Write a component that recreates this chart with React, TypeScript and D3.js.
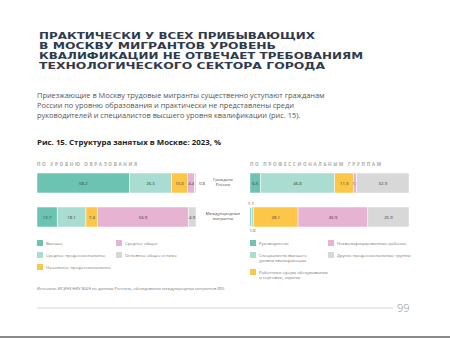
import React from "react";
import * as d3 from "d3";

const titleLines = [
  "ПРАКТИЧЕСКИ У ВСЕХ ПРИБЫВАЮЩИХ",
  "В МОСКВУ МИГРАНТОВ УРОВЕНЬ",
  "КВАЛИФИКАЦИИ НЕ ОТВЕЧАЕТ ТРЕБОВАНИЯМ",
  "ТЕХНОЛОГИЧЕСКОГО СЕКТОРА ГОРОДА",
];
const titleWidths = [276, 237, 324, 286];
const bodyLines = [
  "Приезжающие в Москву трудовые мигранты существенно уступают гражданам",
  "России по уровню образования и практически не представлены среди",
  "руководителей и специалистов высшего уровня квалификации (рис. 15).",
];
const figTitle = "Рис. 15. Структура занятых в Москве: 2023, %";
const rowLabels = [["Граждане", "России"], ["Международные", "мигранты"]];

const eduHeader = "ПО УРОВНЮ ОБРАЗОВАНИЯ";
const eduCats = ["Высшее", "Среднее профессиональное", "Начальное профессиональное", "Среднее общее", "Основное общее и ниже"];
const eduCitizens = [58.2, 26.3, 10.3, 4.4, 0.8];
const eduMigrants = [12.7, 18.1, 7.4, 56.9, 4.9];

const profHeader = "ПО ПРОФЕССИОНАЛЬНЫМ ГРУППАМ";
const profCats = [
  "Руководители",
  "Специалисты высшего\nуровня квалификации",
  "Работники сферы обслуживания\nи торговли, охраны",
  "Неквалифицированные рабочие",
  "Другие профессиональные группы",
];
const profCitizens = [6.5, 46.8, 11.9, 1.9, 32.9];
const profMigrants = [1.1, 1.0, 28.1, 43.9, 25.9];

const source = "Источник: ИСИЭЗ НИУ ВШЭ по данным Росстата, обследование международных мигрантов (80).";
const pageNum = "99";

const colors = ["#6cc3b1", "#a9ddd2", "#fcc748", "#e7b3d3", "#d8d8d8"];

const FONT = "'Open Sans', 'DejaVu Sans', sans-serif";

function Bars({ rows, x0, x1, y0s, h }: { rows: number[][]; x0: number; x1: number; y0s: number[]; h: number }) {
  const x = d3.scaleLinear().domain([0, 100]).range([x0, x1]);
  return (
    <g>
      {rows.map((vals, ri) => {
        const cum = d3.cumsum(vals);
        const y = y0s[ri];
        let smallIdx = 0;
        return (
          <g key={ri}>
            {vals.map((v, i) => {
              const a = i === 0 ? 0 : cum[i - 1];
              const xa = x(a);
              const xb = x(a + v);
              const cx = (xa + xb) / 2;
              let lx = cx;
              let ly = y + h / 2 + 1.6;
              if (v < 1.5) {
                if (i === vals.length - 1) {
                  lx = xb + 6;
                } else {
                  ly = smallIdx === 0 ? y - 2 : y + h + 5;
                  smallIdx++;
                }
              }
              return (
                <g key={i}>
                  <rect x={xa} y={y} width={Math.max(0.6, xb - xa)} height={h} fill={colors[i]} stroke="#fff" strokeWidth={0.5} />
                  <text x={lx} y={ly} fontSize={4.3} textAnchor="middle" fill="#333" fontFamily={FONT}>
                    {v.toFixed(1)}
                  </text>
                </g>
              );
            })}
          </g>
        );
      })}
    </g>
  );
}

function Legend({ cats, x, colX, rowsY }: { cats: string[]; x: number; colX: number; rowsY: number[] }) {
  const positions = [
    [x, rowsY[0]],
    [x, rowsY[1]],
    [x, rowsY[2]],
    [colX, rowsY[0]],
    [colX, rowsY[1]],
  ];
  return (
    <g>
      {cats.map((c, ci) => {
        const [px, py] = positions[ci];
        const lines = c.split("\n");
        return (
          <g key={ci}>
            <rect x={px} y={py - 3} width={6} height={6} fill={colors[ci]} />
            {lines.map((l, li) => (
              <text key={li} x={px + 9} y={py + 1.5 + li * 5} fontSize={4.3} fill="#777" fontFamily={FONT}>
                {l}
              </text>
            ))}
          </g>
        );
      })}
    </g>
  );
}

export default function App() {
  const rowY = [173, 207];
  const barH = 20;
  return (
    <svg width={450} height={338} style={{ position: "absolute", left: 0, top: 0 }}>
      <rect x={0} y={0} width={450} height={338} fill="#fff" />
      {titleLines.map((t, i) => (
        <text
          key={i}
          x={39}
          y={38.5 + i * 10}
          fontSize={8.8}
          fontWeight={900}
          fill="#2f3a4d"
          fontFamily="'DejaVu Sans', sans-serif"
          textLength={titleWidths[i]}
          lengthAdjust="spacingAndGlyphs"
        >
          {t}
        </text>
      ))}
      {bodyLines.map((t, i) => (
        <text key={i} x={37} y={97.5 + i * 10} fontSize={7.4} fill="#555" fontFamily={FONT}>
          {t}
        </text>
      ))}
      <text x={37} y={144.5} fontSize={7.6} fontWeight={700} fill="#222" fontFamily={FONT} textLength={184} lengthAdjust="spacingAndGlyphs">
        {figTitle}
      </text>
      <text x={37} y={166} fontSize={4.6} fontWeight={700} fill="#aaa" fontFamily={FONT} textLength={100} lengthAdjust="spacing">
        {eduHeader}
      </text>
      <text x={250} y={166} fontSize={4.6} fontWeight={700} fill="#aaa" fontFamily={FONT} textLength={131} lengthAdjust="spacing">
        {profHeader}
      </text>

      <Bars rows={[eduCitizens, eduMigrants]} x0={37} x1={196} y0s={rowY} h={barH} />
      <Bars rows={[profCitizens, profMigrants]} x0={250} x1={409} y0s={rowY} h={barH} />

      {rowLabels.map((ls, i) =>
        ls.map((l, li) => (
          <text key={i + "-" + li} x={223} y={rowY[i] + 8 + li * 5} fontSize={4.2} textAnchor="middle" fill="#444" fontFamily={FONT}>
            {l}
          </text>
        ))
      )}

      <Legend cats={eduCats} x={37} colX={116} rowsY={[243, 255, 267]} />
      <Legend cats={profCats} x={250} colX={328} rowsY={[243, 255, 272]} />

      <text x={37} y={289.5} fontSize={3.8} fill="#777" fontFamily={FONT} textLength={188} lengthAdjust="spacingAndGlyphs">
        {source}
      </text>

      <line x1={37} x2={393} y1={308} y2={308} stroke="#ccc" strokeWidth={0.8} />
      <text x={397} y={312} fontSize={11} fill="#999" fontFamily={FONT} fontWeight={300}>
        {pageNum}
      </text>
      <rect x={0} y={336} width={450} height={2} fill="#8a8a8a" />
    </svg>
  );
}
